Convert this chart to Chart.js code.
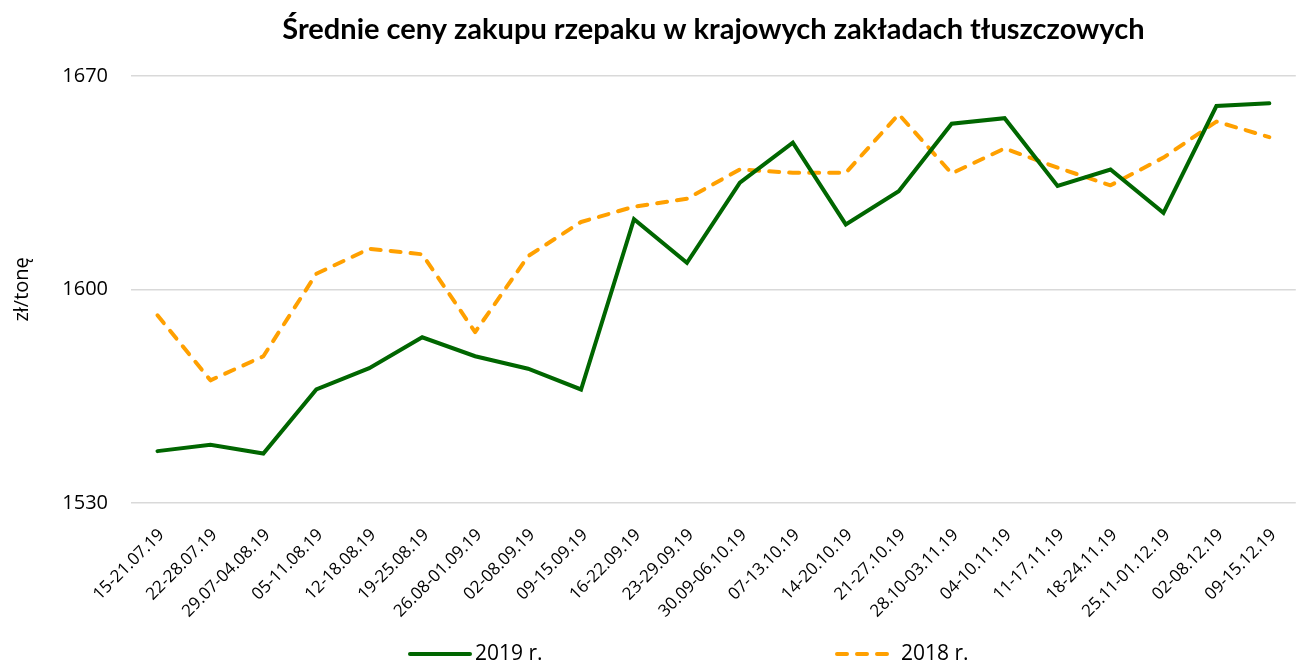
<!DOCTYPE html>
<html>
<head>
<meta charset="utf-8">
<script src="https://cdn.jsdelivr.net/npm/chart.js@4/dist/chart.umd.min.js"></script>
<style>
  html, body { margin: 0; padding: 0; background: #fff; }
  #wrap { width: 1306px; height: 664px; }
</style>
</head>
<body>
<div id="wrap"><canvas id="c" width="1306" height="664"></canvas></div>
<script>
const categories = ['15-21.07.19','22-28.07.19','29.07-04.08.19','05-11.08.19','12-18.08.19','19-25.08.19','26.08-01.09.19','02-08.09.19','09-15.09.19','16-22.09.19','23-29.09.19','30.09-06.10.19','07-13.10.19','14-20.10.19','21-27.10.19','28.10-03.11.19','04-10.11.19','11-17.11.19','18-24.11.19','25.11-01.12.19','02-08.12.19','09-15.12.19'];
const values2019 = [1547.0, 1549.1, 1546.2, 1567.2, 1574.2, 1584.3, 1578.1, 1574.0, 1567.2, 1623.0, 1608.7, 1635.0, 1648.1, 1621.3, 1632.2, 1654.3, 1656.1, 1633.9, 1639.3, 1625.1, 1660.1, 1661.0];
const values2018 = [1591.5, 1570.2, 1578.1, 1605.1, 1613.3, 1611.5, 1586.0, 1610.9, 1622.1, 1627.1, 1629.7, 1639.3, 1638.2, 1638.2, 1657.4, 1638.0, 1646.2, 1639.9, 1634.1, 1643.2, 1655.0, 1649.9];
const yTicks = [1530, 1600, 1670];
const seriesNames = ['2019 r.', '2018 r.'];
const titleText = 'Średnie ceny zakupu rzepaku w krajowych zakładach tłuszczowych';
const yTitle = 'zł/tonę';

const legendPlugin = {
  id: 'customLegend',
  afterDraw(chart) {
    const ctx = chart.ctx;
    const ds = chart.data.datasets;
    const items = [{x1: 410, x2: 470, tx: 475}, {x1: 837, x2: 890, tx: 901}];
    const y = 654;
    ctx.save();
    ds.forEach((d, i) => {
      const it = items[i];
      ctx.beginPath();
      ctx.strokeStyle = d.borderColor;
      ctx.lineWidth = d.borderWidth;
      ctx.lineCap = d.borderCapStyle || 'round';
      ctx.setLineDash(d.borderDash || []);
      ctx.moveTo(it.x1, y);
      ctx.lineTo(it.x2, y);
      ctx.stroke();
      ctx.setLineDash([]);
      ctx.fillStyle = '#000';
      ctx.font = '21px "Open Sans"';
      ctx.textBaseline = 'middle';
      ctx.textAlign = 'left';
      ctx.fillText(d.label, it.tx, y);
    });
    ctx.restore();
  }
};

function build() {
  new Chart(document.getElementById('c'), {
    type: 'line',
    data: {
      labels: categories,
      datasets: [
        {
          label: seriesNames[0],
          data: values2019,
          borderColor: '#006600',
          backgroundColor: '#006600',
          borderWidth: 4,
          borderCapStyle: 'round',
          borderJoinStyle: 'miter',
          pointRadius: 0,
          tension: 0,
          fill: false
        },
        {
          label: seriesNames[1],
          data: values2018,
          borderColor: '#ffa000',
          backgroundColor: '#ffa000',
          borderWidth: 4,
          borderDash: [10, 10],
          borderCapStyle: 'round',
          borderJoinStyle: 'round',
          pointRadius: 0,
          tension: 0,
          fill: false
        }
      ]
    },
    options: {
      responsive: false,
      animation: false,
      devicePixelRatio: 1,
      layout: { padding: { left: 0, right: 1, top: 0, bottom: 0 } },
      plugins: {
        legend: { display: false },
        tooltip: { enabled: false },
        title: {
          display: true,
          fullSize: false,
          text: titleText,
          color: '#000',
          font: { family: 'Lato', weight: 'bold', size: 29 },
          padding: { top: 12, bottom: 29 }
        }
      },
      scales: {
        x: {
          type: 'category',
          offset: true,
          grid: { display: false, drawTicks: false },
          border: { display: false },
          ticks: {
            autoSkip: false,
            minRotation: 45,
            maxRotation: 45,
            padding: 22,
            labelOffset: 4,
            color: '#000',
            font: { family: 'Open Sans', size: 17 }
          },
          afterFit(scale) { scale.height = 161; }
        },
        y: {
          min: 1530,
          max: 1670,
          afterBuildTicks(scale) { scale.ticks = yTicks.map(v => ({ value: v })); },
          grid: { color: '#d9d9d9', lineWidth: 1.5, drawTicks: false },
          border: { display: false },
          ticks: {
            padding: 23,
            color: '#000',
            font: { family: 'Open Sans', size: 20 },
            callback: (v) => String(v)
          },
          title: {
            display: true,
            text: yTitle,
            color: '#000',
            font: { family: 'Open Sans', size: 20 },
            padding: { top: 10, bottom: 0 }
          },
          afterFit(scale) { scale.width = 131; }
        }
      }
    },
    plugins: [legendPlugin]
  });
}

Promise.all([
  document.fonts.load('17px "Open Sans"', 'Aa0ęł'),
  document.fonts.load('20px "Open Sans"', 'Aa0ęł'),
  document.fonts.load('bold 29px Lato', 'ŚAa0ł')
]).then(build, build);
</script>
</body>
</html>
